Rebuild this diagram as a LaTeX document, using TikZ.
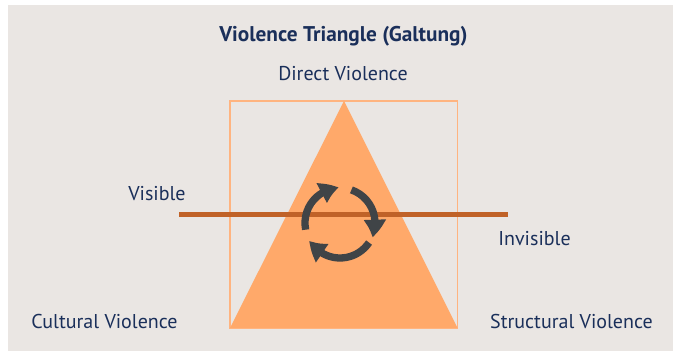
\documentclass[tikz,border=0pt]{standalone}
\usepackage{fontspec}
\setmainfont{PT Sans}
\usetikzlibrary{arrows.meta,bending}
\definecolor{bgc}{RGB}{234,230,227}
\definecolor{navy}{RGB}{26,47,90}
\definecolor{trifill}{RGB}{255,169,106}
\definecolor{sqline}{RGB}{255,180,128}
\definecolor{hline}{RGB}{192,98,40}
\definecolor{cyc}{RGB}{64,68,71}
\tikzset{
  lbl/.style={anchor=base,text=navy,font=\fontsize{20}{23}\selectfont,inner sep=0pt},
  ttl/.style={anchor=base,text=navy,font=\bfseries\fontsize{21.3}{24}\selectfont,inner sep=0pt},
  cycarrow/.style={draw=cyc,line width=7.3pt,-{Triangle[width=21pt,length=18pt,bend]}},
}
\begin{document}
\begin{tikzpicture}[x=1pt,y=1pt]
\useasboundingbox (0,0) rectangle (673,353);
\fill[white] (0,0) rectangle (673,353);
\fill[bgc] (8,2) rectangle (673,348);
% square
\draw[sqline,line width=1.7pt] (230.2,25) rectangle (457.6,252);
% triangle
\coordinate (apex) at (344,252);
\coordinate (bl) at (230,25);
\coordinate (br) at (457.6,25);
\fill[trifill] (apex) -- (bl) -- (br) -- cycle;
% horizontal line
\coordinate (hl) at (179,138.5);
\coordinate (hr) at (508,138.5);
\draw[hline,line width=4.3pt] (hl) -- (hr);
% cycle arrows
\coordinate (cc) at (340,130);
\draw[cycarrow] (cc) ++(191:35) arc[start angle=191,end angle=92,radius=35];
\draw[cycarrow] (cc) ++(71:35) arc[start angle=71,end angle=-24,radius=35];
\draw[cycarrow] (cc) ++(-34:35) arc[start angle=-34,end angle=-150,radius=35];
% texts
\node[ttl] (title) at (343.5,311.3) {Violence Triangle (Galtung)};
\node[lbl] (direct) at (343,272) {Direct Violence};
\node[lbl] (visible) at (157,152) {Visible};
\node[lbl] (invisible) at (534.5,107.3) {Invisible};
\node[lbl] (cultural) at (104.5,24) {Cultural Violence};
\node[lbl] (structural) at (571.5,24) {Structural Violence};
\end{tikzpicture}
\end{document}
